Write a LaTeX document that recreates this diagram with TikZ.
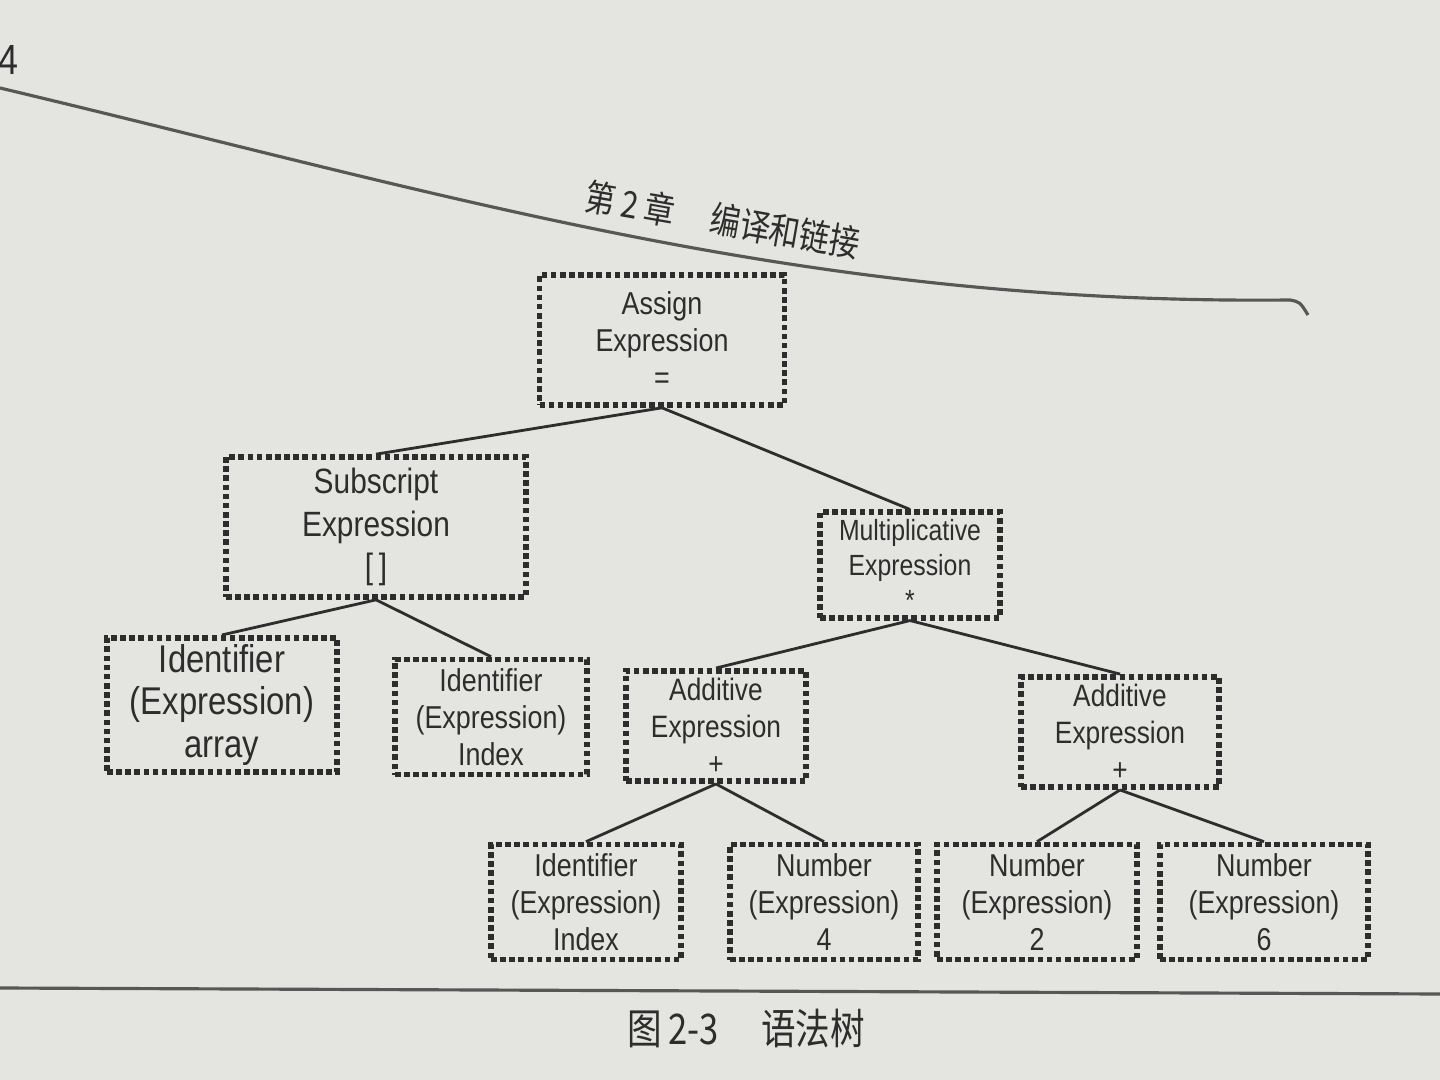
\documentclass[tikz,border=0pt]{standalone}
\usepackage{fontspec}
\setmainfont[FakeStretch=0.85]{Liberation Sans}
\newfontfamily\cjk[FakeStretch=0.82]{Noto Sans CJK SC}
\usetikzlibrary{positioning}
\definecolor{paper}{RGB}{228,228,224}
\definecolor{ink}{RGB}{45,45,45}

\begin{document}
\begin{tikzpicture}[font=\fontsize{9}{10.5}\selectfont, color=ink]

\tikzstyle{tnode} = [rectangle, draw=ink, densely dotted, line width=1.6pt, align=center, inner sep=2pt]
\tikzstyle{edge} = [draw=ink, line width=0.8pt]
\tikzstyle{rule} = [draw=ink!80, line width=0.9pt]

% page
\fill[paper] (0,0) rectangle (14.4,-10.8);
\useasboundingbox (0,0) rectangle (14.4,-10.8);

\node (pagenum) at (0.08,-0.6) {\fontsize{12}{12}\selectfont 4};
\draw[rule] (0,-0.88) .. controls (4.5,-1.95) and (8.0,-3.05) .. (12.9,-3.0) .. controls (13.0,-3.02) .. (13.08,-3.15);
\node (header) at (7.23,-2.2) [rotate=-10, fill=paper, inner sep=0pt] {\cjk\fontsize{10.5}{11}\selectfont 第\,2\,章\quad 编译和链接};

% root
\node (assign)[tnode, minimum width=2.45cm, minimum height=1.3cm] at (6.62,-3.40) {Assign\\Expression\\=};

% lvl 1
\node (subscript)[tnode, minimum width=3.0cm, minimum height=1.4cm, font=\fontsize{10}{12}\selectfont] at (3.76,-5.27) {Subscript\\Expression\\{[\,]}};
\node (mult)[tnode, minimum width=1.8cm, minimum height=1.05cm, font=\fontsize{8.3}{10}\selectfont] at (9.10,-5.65) {Multiplicative\\Expression\\*};

% lvl 2
\node (id_array)[tnode, minimum width=2.3cm, minimum height=1.25cm, font=\fontsize{11}{12}\selectfont] at (2.22,-7.05) {Identifier\\(Expression)\\array};
\node (id_index)[tnode, minimum width=1.92cm, minimum height=1.15cm] at (4.91,-7.17) {Identifier\\(Expression)\\Index};
\node (add_left)[tnode, minimum width=1.8cm, minimum height=1.1cm, font=\fontsize{8.8}{10.5}\selectfont] at (7.16,-7.26) {Additive\\Expression\\+};
\node (add_right)[tnode, minimum width=1.98cm, minimum height=1.02cm, font=\fontsize{8.8}{10.5}\selectfont] at (11.20,-7.32) {Additive\\Expression\\+};

% lvl 3
\node (id_index_b)[tnode, minimum width=1.9cm, minimum height=1.15cm] at (5.86,-9.02) {Identifier\\(Expression)\\Index};
\node (num_4)[tnode, minimum width=1.88cm, minimum height=1.15cm] at (8.24,-9.02) {Number\\(Expression)\\4};
\node (num_2)[tnode, minimum width=2.0cm, minimum height=1.15cm] at (10.37,-9.02) {Number\\(Expression)\\2};
\node (num_6)[tnode, minimum width=2.08cm, minimum height=1.15cm] at (12.64,-9.02) {Number\\(Expression)\\6};

% edges
\draw[edge] (assign.south) -- (subscript.north);
\draw[edge] (assign.south) -- (mult.north);

\draw[edge] (subscript.south) -- (id_array.north);
\draw[edge] (subscript.south) -- (id_index.north);

\draw[edge] (mult.south) -- (add_left.north);
\draw[edge] (mult.south) -- (add_right.north);

\draw[edge] (add_left.south) -- (id_index_b.north);
\draw[edge] (add_left.south) -- (num_4.north);

\draw[edge] (add_right.south) -- (num_2.north);
\draw[edge] (add_right.south) -- (num_6.north);

% caption
\draw[rule] (0,-9.88) -- (14.4,-9.94);
\node (caption) at (7.46,-10.28) {\cjk\fontsize{12}{12}\selectfont 图\,2-3\quad 语法树};

\end{tikzpicture}
\end{document}
